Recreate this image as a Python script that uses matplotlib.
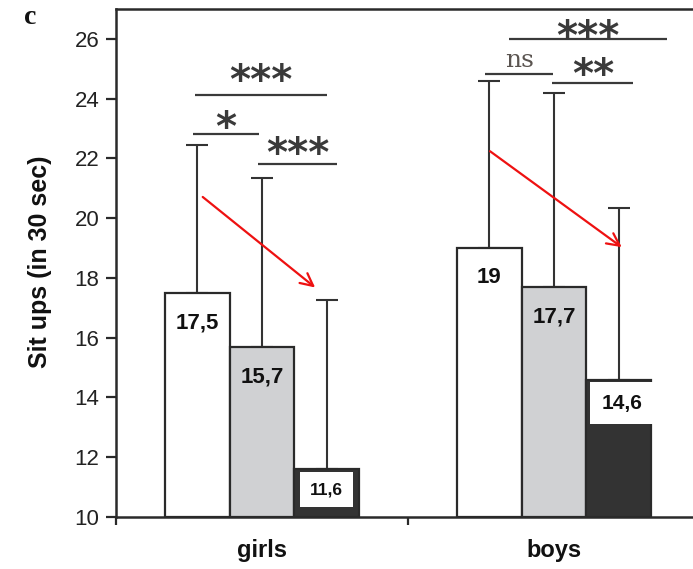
import matplotlib
matplotlib.use("Agg")
import matplotlib.pyplot as plt
import numpy as np

# ---- data ----
groups = ["girls", "boys"]
girls_means = [17.5, 15.7, 11.6]
boys_means = [19.0, 17.7, 14.6]
girls_sd = [4.95, 5.65, 5.65]
boys_sd = [5.6, 6.5, 5.75]
girls_labels = ["17,5", "15,7", "11,6"]
boys_labels = ["19", "17,7", "14,6"]
yticks = [10, 12, 14, 16, 18, 20, 22, 24, 26]
y_label = "Sit ups (in 30 sec)"
panel_letter = "c"

# significance annotations: (text, x_start, x_end, line level, text level)
sig_text = ["***", "*", "***", "***", "ns", "**"]
sig_x1 = [0.271, 0.264, 0.486, 1.346, 1.264, 1.494]
sig_x2 = [0.723, 0.490, 0.757, 1.886, 1.498, 1.772]
sig_line = [24.13, 22.82, 21.82, 25.98, 24.84, 24.53]
sig_txty = [24.56, 23.0, 22.11, 26.03, 25.27, 24.76]

# red trend arrows (start x, start y, end x, end y)
arrow_x0 = [0.297, 1.281]
arrow_y0 = [20.71, 22.24]
arrow_x1 = [0.682, 1.732]
arrow_y1 = [17.68, 19.03]

fills = ["white", "#d0d1d3", "#333333"]
edge = "#2a2a2a"

W, H = 693, 569
fig = plt.figure(figsize=(W / 100, H / 100), dpi=100)
ax = fig.add_axes([116 / W, 52 / H, (700 - 116) / W, (560 - 52) / H])

bw = 0.221
offsets = np.array([-bw, 0.0, bw])
all_means = [girls_means, boys_means]
all_sd = [girls_sd, boys_sd]
all_labels = [girls_labels, boys_labels]
for gi in range(len(groups)):
    xs = gi + 0.5 + offsets
    ax.bar(xs, np.array(all_means[gi]) - 10, bottom=10, width=bw,
           color=fills, edgecolor=edge, linewidth=1.6, zorder=2)
    ax.errorbar(xs, all_means[gi], yerr=[np.zeros(3), all_sd[gi]], fmt="none",
                ecolor="#333333", elinewidth=1.5, capsize=7.8, capthick=1.5,
                zorder=1)
    for j in range(3):
        lab = all_labels[gi][j]
        if j == 2:
            fs = 12.5 if gi == 0 else 15
            pad = 0.55 if gi == 0 else 0.55
            ty = all_means[gi][j] - (0.68 if gi == 0 else 0.8)
            tx = xs[j] + (0.0 if gi == 0 else 0.012)
            ax.text(tx, ty, lab, ha="center", va="center", fontsize=fs,
                    fontweight="bold", family="Liberation Sans", color="#111111",
                    bbox=dict(boxstyle="square,pad=%s" % pad, facecolor="white",
                              edgecolor="none"), zorder=4)
        else:
            ax.text(xs[j], all_means[gi][j] - 1.0, lab, ha="center", va="center",
                    fontsize=16, fontweight="bold", family="Liberation Sans",
                    color="#111111", zorder=4)

# significance lines and marks
for t, a, b, ly, ty in zip(sig_text, sig_x1, sig_x2, sig_line, sig_txty):
    ax.plot([a, b], [ly, ly], color="#3a3a3a", lw=1.6, solid_capstyle="butt",
            zorder=3)
    if t == "ns":
        ax.text((a + b) / 2, ty, t, ha="center", va="center", fontsize=18,
                family="DejaVu Serif", color="#5a5450", zorder=3)
    else:
        ax.text((a + b) / 2, ty, t, ha="center", va="center", fontsize=29,
                family="DejaVu Sans", fontweight="bold", color="#3a3a3a",
                zorder=3)

for x0, y0, x1, y1 in zip(arrow_x0, arrow_y0, arrow_x1, arrow_y1):
    ax.annotate("", xy=(x1, y1), xytext=(x0, y0),
                arrowprops=dict(arrowstyle="->,head_length=0.9,head_width=0.45",
                                color="#ee1111", lw=1.6, shrinkA=0, shrinkB=0),
                zorder=5)

ax.set_xlim(0, 2)
ax.set_ylim(10, 27)
ax.set_yticks(yticks)
ax.set_yticklabels([str(v) for v in yticks], family="Liberation Sans",
                   fontsize=16, color="#222222")
ax.tick_params(axis="y", direction="out", length=7, width=1.6, pad=5,
               color="#2a2a2a")
ax.set_xticks([0, 1, 2])
ax.set_xticklabels(["", "", ""])
ax.tick_params(axis="x", which="major", direction="out", length=6, width=1.6,
               color="#2a2a2a")
ax.set_xticks([0.5, 1.5], minor=True)
ax.set_xticklabels(groups, minor=True, family="Liberation Sans",
                   fontweight="bold", fontsize=17, color="#111111")
ax.tick_params(axis="x", which="minor", length=0, pad=16)

for s in ax.spines.values():
    s.set_linewidth(1.8)
    s.set_color("#2a2a2a")

fig.text(40 / W, 1 - 262 / H, y_label, rotation=90, ha="center", va="center",
         family="Liberation Sans", fontweight="bold", fontsize=18,
         color="#111111")
fig.text(30 / W, 1 - 18 / H, panel_letter, ha="center", va="center",
         family="Liberation Serif", fontweight="bold", fontsize=20,
         color="#111111")

fig.savefig("out.png", dpi=100)
